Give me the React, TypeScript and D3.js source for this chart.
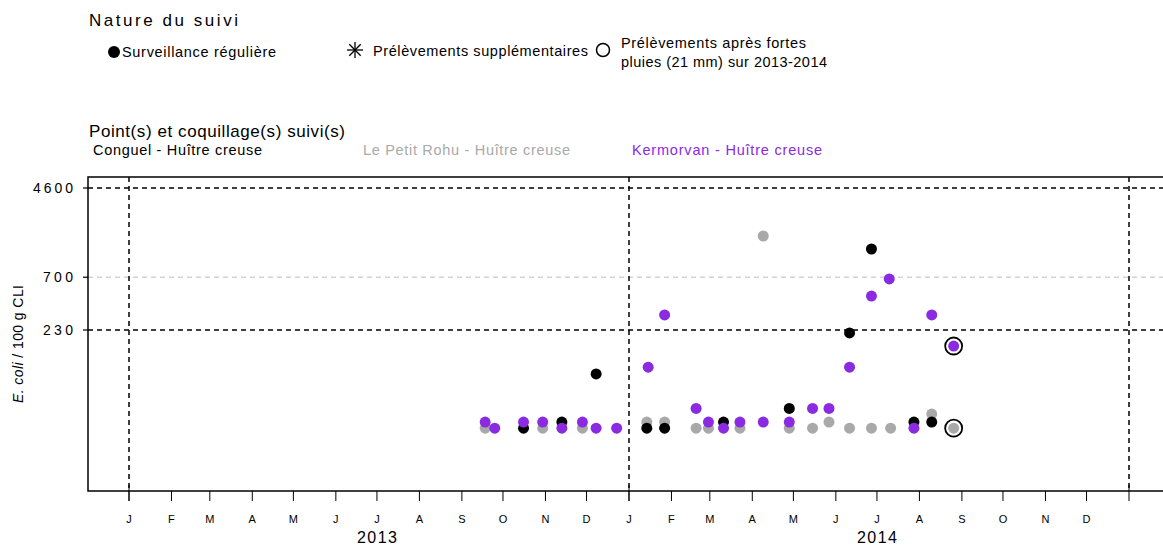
import React from 'react';
import * as d3 from 'd3';

const W = 1163;
const H = 546;

// Tick labels
const monthLabels = ['J', 'F', 'M', 'A', 'M', 'J', 'J', 'A', 'S', 'O', 'N', 'D'];
const yearLabels = ['2013', '2014'];
const yTicks = [230, 700, 4600];

// Series: Conguel - Huître creuse (black)
const conguelDates = ['2013-10-16', '2013-11-13', '2013-12-08', '2014-01-14', '2014-01-27', '2014-03-11', '2014-04-28', '2014-06-11', '2014-06-27', '2014-07-28', '2014-08-10'];
const conguelValues = [29, 33, 91, 29, 29, 33, 44, 216, 1270, 33, 33];

// Series: Le Petit Rohu - Huître creuse (gray)
const rohuDates = ['2013-09-18', '2013-10-30', '2013-11-28', '2014-01-14', '2014-01-27', '2014-02-19', '2014-02-28', '2014-03-23', '2014-04-09', '2014-04-28', '2014-05-15', '2014-05-27', '2014-06-11', '2014-06-27', '2014-07-11', '2014-08-10', '2014-08-26'];
const rohuValues = [29, 29, 29, 33, 33, 29, 29, 29, 1671, 29, 29, 33, 29, 29, 29, 39, 29];

// Series: Kermorvan - Huître creuse (purple)
const kermDates = ['2013-09-18', '2013-09-25', '2013-10-16', '2013-10-30', '2013-11-13', '2013-11-28', '2013-12-08', '2013-12-23', '2014-01-15', '2014-01-27', '2014-02-19', '2014-02-28', '2014-03-11', '2014-03-23', '2014-04-09', '2014-04-28', '2014-05-15', '2014-05-27', '2014-06-11', '2014-06-27', '2014-07-10', '2014-07-28', '2014-08-10', '2014-08-26'];
const kermValues = [33, 29, 33, 33, 29, 33, 29, 29, 105, 316, 44, 33, 29, 33, 33, 33, 44, 44, 105, 471, 675, 29, 316, 164];

// Samples after heavy rain
const rainDates = ['2014-08-26', '2014-08-26'];
const rainValues = [164, 29];

const FONT = '"Liberation Sans", Arial, Helvetica, sans-serif';
const BLACK = '#000000';
const GRAY = '#A9A9A9';
const PURPLE = '#8A2BE2';

const parse = (s: string) => {
  const [yy, mm, dd] = s.split('-').map(Number);
  return new Date(Date.UTC(yy, mm - 1, dd));
};

export default function App() {
  const plotL = 88, plotR = 1172, plotT = 177, plotB = 491;
  const x = d3.scaleUtc()
    .domain([new Date(Date.UTC(2013, 0, 1)), new Date(Date.UTC(2015, 0, 1))])
    .range([129, 1129]);
  const y = d3.scaleLog().domain([7.7, 5801]).range([plotB, plotT]);

  const months = d3.utcMonths(new Date(Date.UTC(2013, 0, 1)), new Date(Date.UTC(2015, 0, 1)));
  const years = [new Date(Date.UTC(2013, 0, 1)), new Date(Date.UTC(2014, 0, 1)), new Date(Date.UTC(2015, 0, 1))];

  const series = [
    { dates: rohuDates, values: rohuValues, color: GRAY },
    { dates: conguelDates, values: conguelValues, color: BLACK },
    { dates: kermDates, values: kermValues, color: PURPLE },
  ];

  const dash = '5,4';

  return (
    <svg width={W} height={H} style={{ position: 'absolute', left: 0, top: 0, display: 'block' }} fontFamily={FONT}>
      <rect x={0} y={0} width={W} height={H} fill="#fff" />
      {/* Legend: nature du suivi */}
      <text x={89} y={26} fontSize={17} textLength={149} lengthAdjust="spacing">Nature du suivi</text>
      <circle cx={114} cy={52} r={6} fill={BLACK} />
      <text x={122} y={57} fontSize={14.5} textLength={154} lengthAdjust="spacing">Surveillance régulière</text>
      <g stroke={BLACK} strokeWidth={1.3}>
        <line x1={355} y1={42} x2={355} y2={58} />
        <line x1={347} y1={50} x2={363} y2={50} />
        <line x1={349.3} y1={44.3} x2={360.7} y2={55.7} />
        <line x1={349.3} y1={55.7} x2={360.7} y2={44.3} />
      </g>
      <text x={373} y={56} fontSize={14.5} textLength={215} lengthAdjust="spacing">Prélèvements supplémentaires</text>
      <circle cx={603} cy={50} r={6.5} fill="none" stroke={BLACK} strokeWidth={1.5} />
      <text x={621} y={48} fontSize={14.5} textLength={185} lengthAdjust="spacing">Prélèvements après fortes</text>
      <text x={621} y={67} fontSize={14.5} textLength={206} lengthAdjust="spacing">pluies (21 mm) sur 2013-2014</text>

      {/* Legend: points */}
      <text x={89} y={137} fontSize={17} textLength={256} lengthAdjust="spacing">Point(s) et coquillage(s) suivi(s)</text>
      <text x={93} y={155} fontSize={14.5} fill={BLACK} textLength={169} lengthAdjust="spacing">Conguel - Huître creuse</text>
      <text x={363} y={155} fontSize={14.5} fill={GRAY} textLength={207} lengthAdjust="spacing">Le Petit Rohu - Huître creuse</text>
      <text x={632} y={155} fontSize={14.5} fill={PURPLE} textLength={190} lengthAdjust="spacing">Kermorvan - Huître creuse</text>

      {/* Threshold lines */}
      {yTicks.map((v) => (
        <g key={v}>
          <line x1={83} x2={plotL} y1={y(v)} y2={y(v)} stroke={BLACK} strokeWidth={1.2} />
          <line x1={plotL} x2={plotR} y1={y(v)} y2={y(v)} stroke={v === 700 ? '#D3D3D3' : BLACK} strokeWidth={1.5} strokeDasharray={dash} />
          <text x={73} y={y(v) + 5} fontSize={14} textAnchor="end" textLength={String(v).length * 10} lengthAdjust="spacing">{v}</text>
        </g>
      ))}

      {/* Year separators */}
      {years.map((d, i) => (
        <line key={i} x1={x(d)} x2={x(d)} y1={plotT} y2={plotB} stroke={BLACK} strokeWidth={1.5} strokeDasharray={dash} />
      ))}

      {/* Plot box */}
      <rect x={plotL} y={plotT} width={plotR - plotL} height={plotB - plotT} fill="none" stroke={BLACK} strokeWidth={1.5} />

      {/* X axis ticks */}
      {months.map((d, i) => (
        <g key={i}>
          <line x1={x(d)} x2={x(d)} y1={plotB} y2={501} stroke={BLACK} strokeWidth={1} />
          <text x={x(d)} y={523} fontSize={11} textAnchor="middle">{monthLabels[d.getUTCMonth()]}</text>
        </g>
      ))}
      {years.map((d, i) => (
        <line key={'yt' + i} x1={x(d)} x2={x(d)} y1={485} y2={501} stroke={BLACK} strokeWidth={1} />
      ))}
      {yearLabels.map((lab, i) => (
        <text key={lab} x={x(new Date(Date.UTC(2013 + i, 6, 1)))} y={543} fontSize={16} textAnchor="middle" textLength={40} lengthAdjust="spacing">{lab}</text>
      ))}

      {/* Y axis title */}
      <text transform="translate(23,344) rotate(-90)" fontSize={14} textAnchor="middle" textLength={118} lengthAdjust="spacing">
        <tspan fontStyle="italic">E. coli</tspan>
        <tspan>{'  /  100 g CLI'}</tspan>
      </text>

      {/* Points */}
      {series.map((s, si) => (
        <g key={si} fill={s.color}>
          {s.dates.map((d, i) => (
            <circle key={i} cx={x(parse(d))} cy={y(s.values[i])} r={5.5} />
          ))}
        </g>
      ))}

      {/* Heavy rain circles */}
      {rainDates.map((d, i) => (
        <circle key={'r' + i} cx={x(parse(d))} cy={y(rainValues[i])} r={8.5} fill="none" stroke={BLACK} strokeWidth={1.8} />
      ))}
    </svg>
  );
}
